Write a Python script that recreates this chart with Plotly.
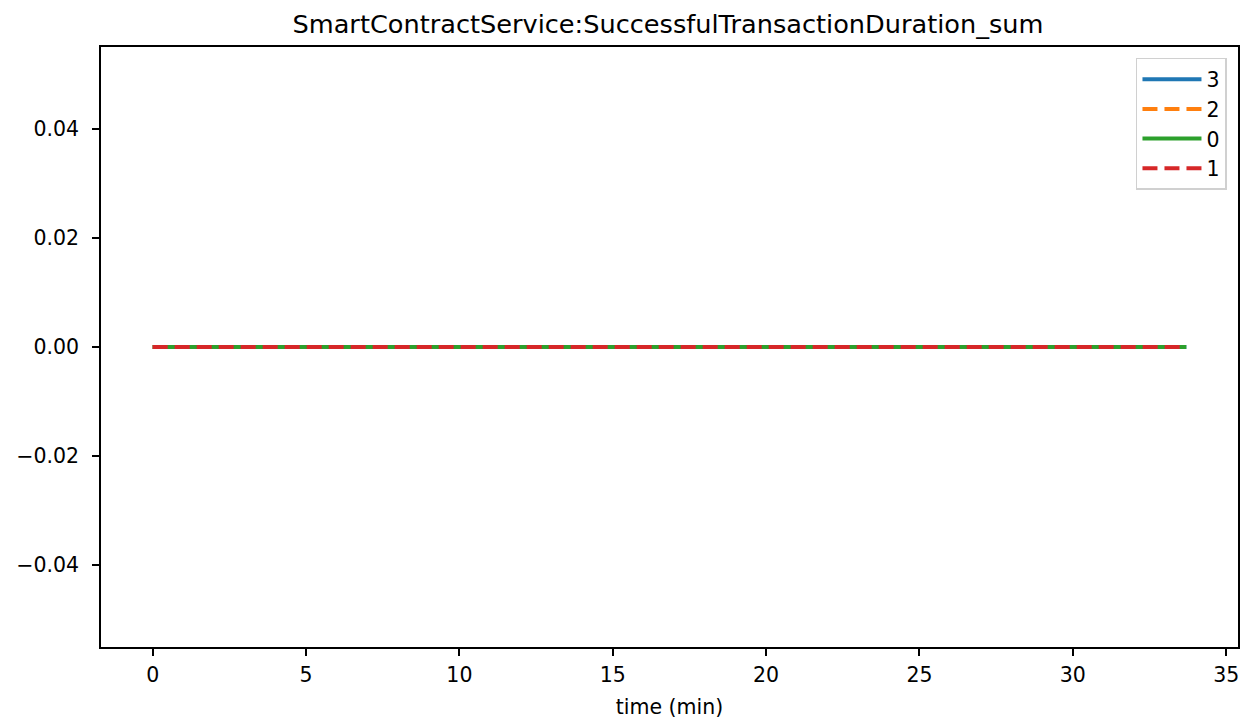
import plotly.graph_objects as go

# Data
series_names = ["3", "2", "0", "1"]
time_min = [0.0, 2.5, 5.0, 7.5, 10.0, 12.5, 15.0, 17.5, 20.0, 22.5, 25.0, 27.5, 30.0, 32.5, 33.7]
values_3 = [0, 0, 0, 0, 0, 0, 0, 0, 0, 0, 0, 0, 0, 0, 0]
values_2 = [0, 0, 0, 0, 0, 0, 0, 0, 0, 0, 0, 0, 0, 0, 0]
values_0 = [0, 0, 0, 0, 0, 0, 0, 0, 0, 0, 0, 0, 0, 0, 0]
values_1 = [0, 0, 0, 0, 0, 0, 0, 0, 0, 0, 0, 0, 0, 0, 0]
x_ticks = [0, 5, 10, 15, 20, 25, 30, 35]
y_ticks = [-0.04, -0.02, 0.0, 0.02, 0.04]

series_values = [values_3, values_2, values_0, values_1]
colors = ["#1f77b4", "#ff7f0e", "#2ca02c", "#d62728"]
dashes = ["solid", "15px,7px", "solid", "15px,7px"]

FONT = "DejaVu Sans"
TICK_SIZE = 20.5

fig = go.Figure()
for name, vals, c, d in zip(series_names, series_values, colors, dashes):
    fig.add_trace(go.Scatter(
        x=time_min, y=vals, mode="lines", name=name,
        line=dict(color=c, width=4, dash=d),
    ))

xmax = max(time_min)
xmin = min(time_min)
pad = (xmax - xmin) * 0.05

fig.update_layout(
    width=1240, height=719,
    margin=dict(l=101, r=2, t=47, b=72, autoexpand=False),
    paper_bgcolor="white", plot_bgcolor="white",
    font=dict(family=FONT, size=TICK_SIZE, color="black"),
    title=dict(text="SmartContractService:SuccessfulTransactionDuration_sum",
               x=0.5387, xanchor="center", y=0.9666, yanchor="middle",
               font=dict(family=FONT, size=25.6, color="black")),
    showlegend=True,
    legend=dict(x=0.9903, xanchor="right", y=0.9817, yanchor="top",
                bgcolor="rgba(255,255,255,0.8)", bordercolor="#d0d0d0", borderwidth=1.5,
                font=dict(family=FONT, size=TICK_SIZE, color="black"),
                tracegroupgap=0, itemwidth=59),
)
fig.update_xaxes(
    range=[xmin - pad, xmax + pad], tickvals=x_ticks, ticktext=[str(t) for t in x_ticks],
    showgrid=False, zeroline=False, showline=True, linecolor="black", linewidth=1.7,
    mirror=True, ticks="outside", ticklen=7, tickwidth=1.7, tickcolor="black",
    automargin=False, ticklabelstandoff=2,
    title=dict(text="time (min)", font=dict(family=FONT, size=TICK_SIZE), standoff=16),
)
fig.update_yaxes(
    range=[-0.055, 0.055], tickvals=y_ticks,
    ticktext=[("\u2212" if t < 0 else "") + f"{abs(t):.2f}" for t in y_ticks],
    showgrid=False, zeroline=False, showline=True, linecolor="black", linewidth=1.7,
    mirror=True, ticks="outside", ticklen=7, tickwidth=1.7, tickcolor="black",
    automargin=False, ticklabelstandoff=9,
)

fig.write_html(
    "out.html",
    config={"displayModeBar": False},
    post_script="document.body.style.margin='0';document.body.style.overflow='hidden';",
)
